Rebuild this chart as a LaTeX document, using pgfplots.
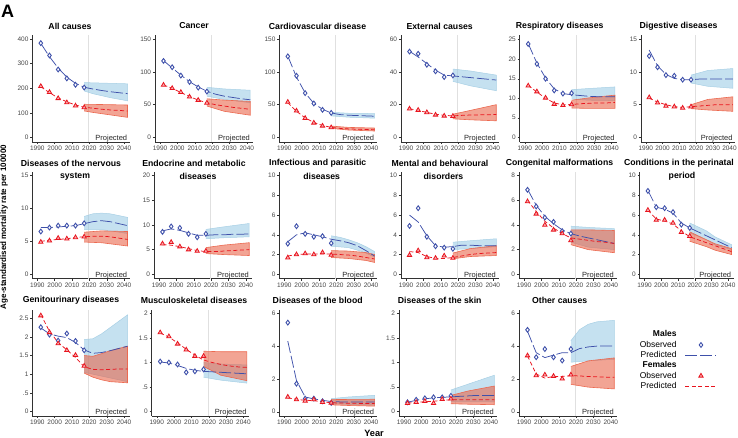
\documentclass[border=0pt]{standalone}
\usepackage{fontspec}
\setmainfont{Liberation Sans}
\usepackage{pgfplots}
\pgfplotsset{compat=1.18}
\definecolor{mcol}{RGB}{62,80,170}
\definecolor{fcol}{RGB}{232,20,30}
\definecolor{mbandc}{RGB}{150,200,228}
\definecolor{mbandedge}{RGB}{168,208,228}
\definecolor{fbandc}{RGB}{232,90,60}
\definecolor{fbandedge}{RGB}{236,105,80}
\definecolor{axc}{RGB}{50,50,50}
\definecolor{tickc}{RGB}{70,70,70}
\tikzset{
  proj/.style={anchor=base east, inner sep=0pt, font=\fontsize{7.5}{8}\selectfont, text=black!85},
  ttl/.style={font=\fontsize{8.7}{10}\selectfont\bfseries, inner sep=0pt},
}
\pgfplotsset{
  panel/.style={
    scale only axis, width=97.5pt, height=107pt, anchor=north west,
    xmin=1987.1, xmax=2043.3,
    axis x line*=bottom, axis y line*=left,
    axis line style={draw=axc, line width=0.45pt, -},
    tick style={draw=axc, line width=0.45pt},
    tick align=outside, major tick length=2.2pt,
    xtick={1990,2000,2010,2020,2030,2040},
    tick label style={font=\fontsize{6.5}{7}\selectfont, text=tickc},
    xticklabel style={inner sep=1.5pt},
    yticklabel style={inner sep=1.5pt},
    /pgf/number format/1000 sep={},
    /pgf/number format/assume math mode=true,
    clip=true,
  },
  vline/.style={draw=black!12, line width=0.8pt, forget plot},
  mband/.style={fill=mbandc, fill opacity=0.55, draw=mbandedge, line width=0.5pt, forget plot},
  fband/.style={fill=fbandc, fill opacity=0.55, draw=fbandedge, line width=0.6pt, forget plot},
  mline/.style={draw=mcol, line width=0.75pt, dash pattern=on 12pt off 3pt, mark=none},
  fline/.style={draw=fcol, line width=0.75pt, dash pattern=on 4pt off 2.5pt, mark=none},
  mobs/.style={only marks, mark=diamond*, mark size=2.4pt, mark options={draw=mcol, fill=white, line width=0.9pt, solid}},
  fobs/.style={only marks, mark=triangle*, mark size=2.5pt, mark options={draw=fcol, fill=fcol!35, line width=0.8pt, solid}},
  legimg/.style={legend image code/.code={\draw[mark repeat=2,mark phase=2,##1] plot coordinates {(0pt,0pt) (15.5pt,0pt) (31pt,0pt)};}},
}
\begin{document}
\begin{tikzpicture}
\useasboundingbox (0pt,0pt) rectangle (738pt,-438pt);

% ---------------- Row 1 ----------------
% All causes
\begin{axis}[panel, at={(32.3pt,-35pt)}, ymin=-18, ymax=416, ytick={0,100,200,300,400}]
\addplot[vline] coordinates {(2019.5,-18) (2019.5,416)};
\addplot[mband] coordinates {(2017,223)(2027,221)(2042,218)(2042,149)(2032,162)(2022,178)(2017,189)};
\addplot[fband] coordinates {(2017,135)(2027,134)(2042,132)(2042,82)(2032,92)(2022,102)(2017,108)};
\addplot[mline] coordinates {(1992,382)(1997,328)(2002,282)(2007,245)(2012,220)(2017,204)(2022,197)(2027,191)(2032,186)(2037,182)(2042,178)};
\addplot[fline] coordinates {(1992,206)(1997,182)(2002,161)(2007,145)(2012,132)(2017,123)(2022,119)(2027,115)(2032,112)(2037,110)(2042,108)};
\addplot[mobs] coordinates {(1992,383)(1997,333)(2002,276)(2007,240)(2012,214)(2017,203)};
\addplot[fobs] coordinates {(1992,208)(1997,184)(2002,159)(2007,142)(2012,129)(2017,122)};
\node[proj] at (rel axis cs:0.975,0.012) {Projected};
\end{axis}
% Cancer
\begin{axis}[panel, at={(155pt,-35pt)}, ymin=-6.7, ymax=156, ytick={0,50,100,150}]
\addplot[vline] coordinates {(2019.5,-6.7) (2019.5,156)};
\addplot[mband] coordinates {(2017,76.5)(2027,74)(2042,72)(2042,53)(2027,58)(2017,63)};
\addplot[fband] coordinates {(2017,59)(2027,57)(2042,55)(2042,34)(2027,40)(2017,48)};
\addplot[mline] coordinates {(1992,117)(1997,106)(2002,95)(2007,85)(2012,77)(2017,70.5)(2022,66)(2027,63)(2032,61)(2037,59)(2042,57.5)};
\addplot[fline] coordinates {(1992,80)(1997,75)(2002,68.5)(2007,62.5)(2012,57)(2017,53)(2022,50)(2027,48)(2032,46)(2037,44.5)(2042,43)};
\addplot[mobs] coordinates {(1992,116.6)(1997,107)(2002,94.3)(2007,84.6)(2012,76)(2017,70)};
\addplot[fobs] coordinates {(1992,80)(1997,75)(2002,69)(2007,62)(2012,57)(2017,52.7)};
\node[proj] at (rel axis cs:0.975,0.012) {Projected};
\end{axis}
% Cardiovascular
\begin{axis}[panel, at={(279.3pt,-35pt)}, ymin=-6.7, ymax=156, ytick={0,50,100,150}]
\addplot[vline] coordinates {(2019.5,-6.7) (2019.5,156)};
\addplot[mband] coordinates {(2017,38.5)(2027,37)(2042,36.5)(2042,29.5)(2027,31)(2017,33)};
\addplot[fband] coordinates {(2017,17.5)(2027,15.5)(2042,14.5)(2042,10)(2027,11.5)(2017,14)};
\addplot[mline] coordinates {(1992,124)(1997,92)(2002,68)(2007,52)(2012,43)(2017,37.5)(2022,35)(2027,34)(2032,33.5)(2037,33)(2042,32.5)};
\addplot[fline] coordinates {(1992,53)(1997,40)(2002,30)(2007,23)(2012,18.5)(2017,15.5)(2022,14)(2027,13.2)(2032,12.7)(2037,12.3)(2042,12)};
\addplot[mobs] coordinates {(1992,123.5)(1997,94)(2002,67.6)(2007,51.9)(2012,42.2)(2017,37.6)};
\addplot[fobs] coordinates {(1992,54)(1997,40.7)(2002,29.5)(2007,22.4)(2012,17.8)(2017,15.3)};
\node[proj] at (rel axis cs:0.975,0.012) {Projected};
\end{axis}
% External
\begin{axis}[panel, at={(401pt,-35pt)}, ymin=-2.7, ymax=62.4, ytick={0,20,40,60}]
\addplot[vline] coordinates {(2019.5,-2.7) (2019.5,62.4)};
\addplot[mband] coordinates {(2017,41.7)(2027,40.5)(2042,38)(2042,28.5)(2027,31.5)(2017,34.2)};
\addplot[fband] coordinates {(2017,14.2)(2027,16.5)(2042,20)(2042,10.2)(2027,10.8)(2017,11.4)};
\addplot[mline] coordinates {(1992,52.5)(1997,49)(2002,45)(2007,41)(2012,38)(2017,37.5)(2022,37)(2027,36.5)(2032,36)(2037,35.5)(2042,35)};
\addplot[fline] coordinates {(1992,17.5)(1997,16.5)(2002,15.3)(2007,14.2)(2012,13.5)(2017,13.2)(2022,13.5)(2027,13.7)(2032,13.8)(2037,13.9)(2042,14)};
\addplot[mobs] coordinates {(1992,52.3)(1997,51)(2002,44.3)(2007,40.3)(2012,36.8)(2017,37.8)};
\addplot[fobs] coordinates {(1992,17.5)(1997,16.7)(2002,15.3)(2007,13.8)(2012,13.2)(2017,13)};
\node[proj] at (rel axis cs:0.975,0.012) {Projected};
\end{axis}
% Respiratory
\begin{axis}[panel, at={(519.7pt,-35pt)}, ymin=-1.2, ymax=26.2, ytick={0,5,10,15,20,25}]
\addplot[vline] coordinates {(2019.5,-1.2) (2019.5,26.2)};
\addplot[mband] coordinates {(2017,12.2)(2027,12.5)(2042,12.9)(2042,9.4)(2027,9.5)(2017,9.8)};
\addplot[fband] coordinates {(2017,9.5)(2027,10.1)(2042,10.8)(2042,7.4)(2027,7.4)(2017,7.5)};
\addplot[mline] coordinates {(1992,24)(1997,19)(2002,15.2)(2007,12.4)(2012,11.2)(2017,10.9)(2022,10.7)(2027,10.5)(2032,10.4)(2037,10.4)(2042,10.4)};
\addplot[fline] coordinates {(1992,13.3)(1997,11.6)(2002,10)(2007,8.8)(2012,8.3)(2017,8.4)(2022,8.6)(2027,8.7)(2032,8.8)(2037,8.8)(2042,8.9)};
\addplot[mobs] coordinates {(1992,23.9)(1997,18.8)(2002,15)(2007,12)(2012,11.2)(2017,11.3)};
\addplot[fobs] coordinates {(1992,13.2)(1997,11.7)(2002,10.1)(2007,8.5)(2012,8.2)(2017,8.4)};
\node[proj] at (rel axis cs:0.975,0.012) {Projected};
\end{axis}
% Digestive
\begin{axis}[panel, at={(641pt,-35pt)}, width=94pt, ymin=-0.67, ymax=15.6, ytick={0,5,10,15}]
\addplot[vline] coordinates {(2019.5,-0.67) (2019.5,15.6)};
\addplot[mband] coordinates {(2017,9.5)(2027,10.2)(2042,10.5)(2042,7.5)(2027,7.8)(2017,8.3)};
\addplot[fband] coordinates {(2017,5)(2027,5.8)(2042,6.2)(2042,4)(2027,4.2)(2017,4.4)};
\addplot[mline] coordinates {(1992,13.3)(1997,10.9)(2002,9.6)(2007,9)(2012,8.8)(2017,8.8)(2022,8.9)(2027,8.9)(2032,8.9)(2037,8.9)(2042,8.9)};
\addplot[fline] coordinates {(1992,6)(1997,5.4)(2002,5)(2007,4.7)(2012,4.6)(2017,4.7)(2022,4.8)(2027,4.9)(2032,5)(2037,5)(2042,5)};
\addplot[mobs] coordinates {(1992,12.4)(1997,10.7)(2002,9.5)(2007,9.4)(2012,8.8)(2017,8.8)};
\addplot[fobs] coordinates {(1992,6.1)(1997,5.3)(2002,4.8)(2007,4.7)(2012,4.5)(2017,4.7)};
\node[proj] at (rel axis cs:0.975,0.012) {Projected};
\end{axis}

% ---------------- Row 2 ----------------
% Nervous
\begin{axis}[panel, at={(32.3pt,-171.7pt)}, ymin=-0.67, ymax=15.6, ytick={0,5,10,15}]
\addplot[vline] coordinates {(2019.5,-0.67) (2019.5,15.6)};
\addplot[mband] coordinates {(2017,8.8)(2022,9.2)(2027,9.3)(2032,9.2)(2042,8.65)(2042,6.2)(2027,6.8)(2017,6.8)};
\addplot[fband] coordinates {(2017,6.4)(2027,6.6)(2042,6.5)(2042,4.3)(2027,4.8)(2017,4.9)};
\addplot[mline] coordinates {(1992,7.1)(1997,7.1)(2002,7.2)(2007,7.3)(2012,7.4)(2017,7.7)(2022,8)(2027,8.15)(2032,8)(2037,7.7)(2042,7.4)};
\addplot[fline] coordinates {(1992,5)(1997,5.2)(2002,5.3)(2007,5.4)(2012,5.6)(2017,5.7)(2022,5.8)(2027,5.8)(2032,5.7)(2037,5.5)(2042,5.3)};
\addplot[mobs] coordinates {(1992,6.5)(1997,7.1)(2002,7.4)(2007,7.4)(2012,7.4)(2017,7.75)};
\addplot[fobs] coordinates {(1992,4.9)(1997,5.1)(2002,5.5)(2007,5.4)(2012,5.6)(2017,5.7)};
\node[proj] at (rel axis cs:0.975,0.012) {Projected};
\end{axis}
% Endocrine
\begin{axis}[panel, at={(154pt,-171.7pt)}, ymin=-0.9, ymax=20.8, ytick={0,5,10,15,20}]
\addplot[vline] coordinates {(2019.5,-0.9) (2019.5,20.8)};
\addplot[mband] coordinates {(2017,9.1)(2027,9.6)(2042,10.3)(2042,7.6)(2027,7.4)(2017,7.2)};
\addplot[fband] coordinates {(2017,5.4)(2027,5.9)(2042,6.4)(2042,3.8)(2027,4)(2017,4.2)};
\addplot[mline] coordinates {(1992,8.8)(1997,9.2)(2002,8.9)(2007,8.4)(2012,7.9)(2017,7.9)(2022,8)(2027,8)(2032,8.1)(2037,8.1)(2042,8.2)};
\addplot[fline] coordinates {(1992,6)(1997,5.9)(2002,5.6)(2007,5.2)(2012,4.8)(2017,4.6)(2022,4.6)(2027,4.7)(2032,4.8)(2037,4.9)(2042,5)};
\addplot[mobs] coordinates {(1992,8.6)(1997,9.7)(2002,9.4)(2007,8.2)(2012,7.5)(2017,8.2)};
\addplot[fobs] coordinates {(1992,6.2)(1997,6.5)(2002,5.6)(2007,5)(2012,4.7)(2017,4.7)};
\node[proj] at (rel axis cs:0.975,0.012) {Projected};
\end{axis}
% Infectious
\begin{axis}[panel, at={(279.3pt,-171.7pt)}, ymin=-0.45, ymax=10.4, ytick={0,2,4,6,8,10}]
\addplot[vline] coordinates {(2019.5,-0.45) (2019.5,10.4)};
\addplot[mband] coordinates {(2017,3.9)(2022,3.75)(2027,3.5)(2032,3.2)(2037,2.8)(2042,2.3)(2042,1.75)(2037,2.15)(2032,2.45)(2027,2.7)(2017,2.85)};
\addplot[fband] coordinates {(2017,2.4)(2027,2.35)(2037,2.2)(2042,2)(2042,1.2)(2037,1.4)(2027,1.6)(2017,1.7)};
\addplot[mline] coordinates {(1992,3.3)(1997,4)(2002,4.2)(2007,4)(2012,3.8)(2017,3.55)(2022,3.4)(2027,3.2)(2032,2.9)(2037,2.4)(2042,1.85)};
\addplot[fline] coordinates {(1992,1.85)(1997,2)(2002,2.05)(2007,2.05)(2012,2.05)(2017,2.05)(2022,2)(2027,1.95)(2032,1.85)(2037,1.7)(2042,1.55)};
\addplot[mobs] coordinates {(1992,3.1)(1997,4.87)(2002,4.1)(2007,3.8)(2012,3.86)(2017,3.15)};
\addplot[fobs] coordinates {(1992,1.68)(1997,2)(2002,2.1)(2007,2)(2012,2.2)(2017,1.95)};
\node[proj] at (rel axis cs:0.975,0.012) {Projected};
\end{axis}
% Mental
\begin{axis}[panel, at={(401pt,-171.7pt)}, ymin=-0.45, ymax=10.4, ytick={0,2,4,6,8,10}]
\addplot[vline] coordinates {(2019.5,-0.45) (2019.5,10.4)};
\addplot[mband] coordinates {(2017,3.25)(2027,3.4)(2042,3.6)(2042,2.8)(2027,2.6)(2017,2.5)};
\addplot[fband] coordinates {(2017,2.15)(2027,2.6)(2042,2.9)(2042,1.9)(2027,1.8)(2017,1.57)};
\addplot[mline] coordinates {(1992,6)(1997,5.3)(2002,3.9)(2007,2.9)(2012,2.75)(2017,2.8)(2022,2.95)(2027,2.95)(2032,2.9)(2037,2.9)(2042,2.9)};
\addplot[fline] coordinates {(1992,2.3)(1997,2.2)(2002,1.8)(2007,1.6)(2012,1.6)(2017,1.7)(2022,1.85)(2027,2)(2032,2.1)(2037,2.15)(2042,2.2)};
\addplot[mobs] coordinates {(1992,4.9)(1997,6.7)(2002,3.8)(2007,2.84)(2012,2.7)(2017,2.58)};
\addplot[fobs] coordinates {(1992,1.94)(1997,2.4)(2002,1.7)(2007,1.64)(2012,1.87)(2017,1.64)};
\node[proj] at (rel axis cs:0.975,0.012) {Projected};
\end{axis}
% Congenital
\begin{axis}[panel, at={(519pt,-171.7pt)}, ymin=-0.36, ymax=8.32, ytick={0,2,4,6,8}]
\addplot[vline] coordinates {(2019.5,-0.36) (2019.5,8.32)};
\addplot[mband] coordinates {(2017,3.9)(2027,3.8)(2042,3.7)(2042,2)(2027,2.2)(2017,2.6)};
\addplot[fband] coordinates {(2017,3.6)(2027,3.6)(2042,3.55)(2042,1.75)(2027,2)(2017,2.4)};
\addplot[mline] coordinates {(1992,6.9)(1997,5.6)(2002,4.7)(2007,4.1)(2012,3.6)(2017,3.3)(2022,3.1)(2027,2.95)(2032,2.8)(2037,2.65)(2042,2.5)};
\addplot[fline] coordinates {(1992,6)(1997,5.1)(2002,4.3)(2007,3.75)(2012,3.3)(2017,2.95)(2022,2.85)(2027,2.75)(2032,2.65)(2037,2.6)(2042,2.5)};
\addplot[mobs] coordinates {(1992,6.85)(1997,5.5)(2002,4.6)(2007,4.25)(2012,3.5)(2017,3.3)};
\addplot[fobs] coordinates {(1992,5.9)(1997,4.9)(2002,4)(2007,3.6)(2012,3.3)(2017,2.74)};
\node[proj] at (rel axis cs:0.975,0.012) {Projected};
\end{axis}
% Perinatal
\begin{axis}[panel, at={(639.7pt,-171.7pt)}, width=94pt, ymin=-0.45, ymax=10.4, ytick={0,2,4,6,8,10}]
\addplot[vline] coordinates {(2019.5,-0.45) (2019.5,10.4)};
\addplot[mband] coordinates {(2017,5.2)(2027,4.4)(2032,3.8)(2042,3)(2042,2.5)(2032,3)(2027,3.5)(2017,4.2)};
\addplot[fband] coordinates {(2017,4.3)(2027,3.5)(2032,3.1)(2042,2.6)(2042,2)(2032,2.45)(2027,2.8)(2017,3.35)};
\addplot[mline] coordinates {(1992,8.5)(1997,6.8)(2002,6.6)(2007,6.2)(2012,5.2)(2017,4.7)(2022,4.3)(2027,3.9)(2032,3.5)(2037,3.1)(2042,2.7)};
\addplot[fline] coordinates {(1992,6.5)(1997,5.6)(2002,5.4)(2007,5.1)(2012,4.4)(2017,3.8)(2022,3.5)(2027,3.2)(2032,2.9)(2037,2.6)(2042,2.3)};
\addplot[mobs] coordinates {(1992,8.45)(1997,6.8)(2002,6.7)(2007,6.3)(2012,5.03)(2017,4.7)};
\addplot[fobs] coordinates {(1992,6.5)(1997,5.5)(2002,5.5)(2007,5.2)(2012,4.26)(2017,3.86)};
\node[proj] at (rel axis cs:0.975,0.012) {Projected};
\end{axis}

% ---------------- Row 3 ----------------
% Genitourinary
\begin{axis}[panel, at={(32.3pt,-310pt)}, height=106pt, ymin=-0.12, ymax=2.72, ytick={0,0.5,1,1.5,2,2.5}, yticklabels={0,.5,1,1.5,2,2.5}]
\addplot[vline] coordinates {(2019.5,-0.12) (2019.5,2.72)};
\addplot[mband] coordinates {(2017,1.93)(2022,1.95)(2027,2.08)(2032,2.25)(2037,2.42)(2042,2.59)(2042,0.8)(2027,0.95)(2017,1.05)};
\addplot[fband] coordinates {(2017,1.5)(2022,1.48)(2027,1.55)(2032,1.63)(2042,1.75)(2042,0.77)(2032,0.8)(2027,0.85)(2022,0.92)(2017,1.03)};
\addplot[mline] coordinates {(1992,2.24)(1997,2.08)(2002,2.02)(2007,1.98)(2012,1.85)(2017,1.65)(2022,1.56)(2027,1.58)(2032,1.63)(2037,1.69)(2042,1.75)};
\addplot[fline] coordinates {(1992,2.6)(1997,2.15)(2002,1.85)(2007,1.65)(2012,1.45)(2017,1.2)(2022,1.13)(2027,1.12)(2032,1.13)(2037,1.14)(2042,1.14)};
\addplot[mobs] coordinates {(1992,2.26)(1997,2.06)(2002,1.9)(2007,2.09)(2012,1.89)(2017,1.64)};
\addplot[fobs] coordinates {(1992,2.57)(1997,2.12)(2002,1.82)(2007,1.64)(2012,1.51)(2017,1.22)};
\node[proj] at (rel axis cs:0.975,0.012) {Projected};
\end{axis}
% Musculoskeletal
\begin{axis}[panel, at={(151.7pt,-310pt)}, height=106pt, ymin=-0.09, ymax=2.07, ytick={0,0.5,1,1.5,2}, yticklabels={0,.5,1,1.5,2}]
\addplot[vline] coordinates {(2019.5,-0.09) (2019.5,2.07)};
\addplot[mband] coordinates {(2017,1)(2027,0.97)(2042,0.95)(2042,0.58)(2027,0.64)(2017,0.7)};
\addplot[fband] coordinates {(2017,1.23)(2027,1.22)(2042,1.22)(2042,0.63)(2027,0.74)(2017,0.92)};
\addplot[mline] coordinates {(1992,1.01)(1997,0.99)(2002,0.94)(2007,0.88)(2012,0.84)(2017,0.82)(2022,0.81)(2027,0.8)(2032,0.79)(2037,0.78)(2042,0.77)};
\addplot[fline] coordinates {(1992,1.6)(1997,1.52)(2002,1.4)(2007,1.27)(2012,1.15)(2017,1.05)(2022,1)(2027,0.96)(2032,0.93)(2037,0.91)(2042,0.9)};
\addplot[mobs] coordinates {(1992,1.02)(1997,1)(2002,0.96)(2007,0.8)(2012,0.82)(2017,0.86)};
\addplot[fobs] coordinates {(1992,1.61)(1997,1.53)(2002,1.38)(2007,1.26)(2012,1.13)(2017,1.13)};
\node[proj] at (rel axis cs:0.975,0.012) {Projected};
\end{axis}
% Blood
\begin{axis}[panel, at={(279.3pt,-310pt)}, height=106pt, ymin=-0.26, ymax=6.2, ytick={0,2,4,6}]
\addplot[vline] coordinates {(2019.5,-0.26) (2019.5,6.2)};
\addplot[mband] coordinates {(2017,0.8)(2027,0.9)(2042,1)(2042,0.4)(2027,0.45)(2017,0.5)};
\addplot[fband] coordinates {(2017,0.74)(2027,0.75)(2042,0.76)(2042,0.34)(2027,0.38)(2017,0.42)};
\addplot[mline] coordinates {(1992,4.3)(1997,1.9)(2002,0.9)(2007,0.78)(2012,0.7)(2017,0.62)(2022,0.6)(2027,0.6)(2032,0.6)(2037,0.6)(2042,0.6)};
\addplot[fline] coordinates {(1992,0.85)(1997,0.75)(2002,0.7)(2007,0.68)(2012,0.6)(2017,0.55)(2022,0.53)(2027,0.52)(2032,0.51)(2037,0.5)(2042,0.5)};
\addplot[mobs] coordinates {(1992,5.43)(1997,1.71)(2002,0.8)(2007,0.8)(2012,0.64)(2017,0.54)};
\addplot[fobs] coordinates {(1992,0.9)(1997,0.74)(2002,0.66)(2007,0.74)(2012,0.58)(2017,0.54)};
\node[proj] at (rel axis cs:0.975,0.012) {Projected};
\end{axis}
% Skin
\begin{axis}[panel, at={(399pt,-310pt)}, height=106pt, ymin=-0.09, ymax=2.07, ytick={0,0.5,1,1.5,2}, yticklabels={0,.5,1,1.5,2}]
\addplot[vline] coordinates {(2019.5,-0.09) (2019.5,2.07)};
\addplot[mband] coordinates {(2017,0.44)(2027,0.56)(2042,0.74)(2042,0.2)(2027,0.2)(2017,0.2)};
\addplot[fband] coordinates {(2017,0.33)(2027,0.42)(2042,0.52)(2042,0.14)(2027,0.15)(2017,0.16)};
\addplot[mline] coordinates {(1992,0.19)(1997,0.23)(2002,0.26)(2007,0.28)(2012,0.29)(2017,0.3)(2022,0.31)(2027,0.32)(2032,0.33)(2037,0.33)(2042,0.33)};
\addplot[fline] coordinates {(1992,0.17)(1997,0.19)(2002,0.2)(2007,0.21)(2012,0.23)(2017,0.24)(2022,0.24)(2027,0.24)(2032,0.24)(2037,0.24)(2042,0.24)};
\addplot[mobs] coordinates {(1992,0.19)(1997,0.24)(2002,0.27)(2007,0.29)(2012,0.29)(2017,0.32)};
\addplot[fobs] coordinates {(1992,0.17)(1997,0.19)(2002,0.21)(2007,0.17)(2012,0.25)(2017,0.26)};
\node[proj] at (rel axis cs:0.975,0.012) {Projected};
\end{axis}
% Other causes + legend
\begin{axis}[panel, at={(519pt,-310pt)}, height=106pt, ymin=-0.26, ymax=6.2, ytick={0,2,4,6},
  legimg, legend plot pos=right,
  legend style={at={(2.062,0.83)}, anchor=north east, draw=none, fill=none,
    font=\fontsize{8.5}{10}\selectfont, cells={anchor=east}, row sep=1.4pt, column sep=8pt,
    nodes={inner sep=0.5pt, text height=6.2pt, text depth=1.7pt}}]
\addplot[vline] coordinates {(2019.5,-0.26) (2019.5,6.2)};
\addplot[mband] coordinates {(2017,4.33)(2022,5)(2027,5.33)(2032,5.48)(2042,5.57)(2042,3.2)(2027,3.1)(2017,3.02)};
\addplot[fband] coordinates {(2017,2.76)(2027,3.1)(2042,3.28)(2042,1.39)(2027,1.5)(2017,1.67)};
\addplot[mline, forget plot] coordinates {(1992,4.9)(1997,3.6)(2002,3.3)(2007,3.45)(2012,3.6)(2017,3.6)(2022,3.85)(2027,3.95)(2032,4)(2037,4)(2042,4)};
\addplot[fline, forget plot] coordinates {(1992,3.4)(1997,2.3)(2002,2.05)(2007,2.15)(2012,2.15)(2017,2.2)(2022,2.18)(2027,2.15)(2032,2.13)(2037,2.11)(2042,2.1)};
\addplot[mobs, forget plot] coordinates {(1992,4.99)(1997,3.32)(2002,3.82)(2007,3.32)(2012,3.12)(2017,3.82)};
\addplot[fobs, forget plot] coordinates {(1992,3.42)(1997,2.21)(2002,2.25)(2007,2.17)(2012,2.01)(2017,2.25)};
\node[proj] at (rel axis cs:0.975,0.012) {Projected};
\addlegendimage{empty legend}\addlegendentry{\textbf{Males}}
\addlegendimage{mobs}\addlegendentry{Observed}
\addlegendimage{mline}\addlegendentry{Predicted}
\addlegendimage{empty legend}\addlegendentry{\textbf{Females}}
\addlegendimage{fobs}\addlegendentry{Observed}
\addlegendimage{fline}\addlegendentry{Predicted}
\end{axis}

% ---------------- Titles ----------------
\node[ttl] at (70pt,-26pt) {All causes};
\node[ttl] at (194pt,-26pt) {Cancer};
\node[ttl] at (317.5pt,-26pt) {Cardiovascular disease};
\node[ttl] at (439.7pt,-26pt) {External causes};
\node[ttl] at (559.7pt,-26pt) {Respiratory diseases};
\node[ttl] at (678.5pt,-26pt) {Digestive diseases};

\node[ttl] at (71pt,-163pt) {Diseases of the nervous};
\node[ttl] at (75pt,-176.5pt) {system};
\node[ttl] at (194pt,-163pt) {Endocrine and metabolic};
\node[ttl] at (198pt,-176.5pt) {diseases};
\node[ttl] at (317.7pt,-163pt) {Infectious and parasitic};
\node[ttl] at (321.7pt,-176.5pt) {diseases};
\node[ttl] at (440pt,-163pt) {Mental and behavioural};
\node[ttl] at (443.5pt,-176.5pt) {disorders};
\node[ttl] at (559.5pt,-163pt) {Congenital malformations};
\node[ttl] at (679pt,-163pt) {Conditions in the perinatal};
\node[ttl] at (682pt,-176.5pt) {period};

\node[ttl] at (71pt,-300pt) {Genitourinary diseases};
\node[ttl] at (194pt,-300pt) {Musculoskeletal diseases};
\node[ttl] at (317.7pt,-300pt) {Diseases of the blood};
\node[ttl] at (439.7pt,-300pt) {Diseases of the skin};
\node[ttl] at (559.7pt,-300pt) {Other causes};

% axis titles and panel letter
\node[font=\fontsize{8}{9}\selectfont\bfseries, rotate=90, inner sep=0pt] at (4pt,-227pt) {Age-standardised mortality rate per 100000};
\node[font=\fontsize{9.2}{10}\selectfont\bfseries, inner sep=0pt] at (374pt,-433pt) {Year};
\node[font=\fontsize{18}{20}\selectfont\bfseries, inner sep=0pt] at (7.5pt,-11.5pt) {A};
\end{tikzpicture}
\end{document}
